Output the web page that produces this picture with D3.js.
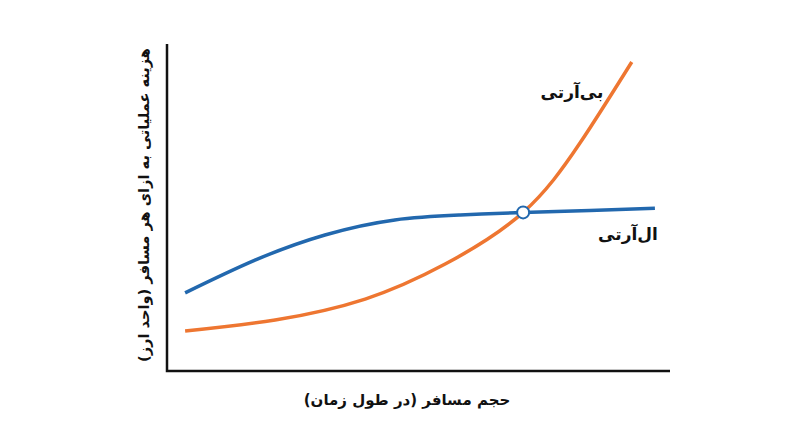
<!DOCTYPE html>
<html lang="fa">
<head>
<meta charset="utf-8">
<script src="https://cdn.jsdelivr.net/npm/d3@7"></script>
<style>
  html, body { margin: 0; padding: 0; background: #fff; }
  svg text { font-family: "DejaVu Sans", sans-serif; font-weight: bold; fill: #111; }
</style>
</head>
<body>
<svg id="chart" width="800" height="447"></svg>
<script>
// passenger volume (x) and cost per passenger (y), both in arbitrary units 0..100
const lrtX = [3.6, 17.5, 31.4, 45.3, 58.3, 70.8, 84.1, 97.0];
const lrtY = [23.9, 33.9, 41.6, 46.2, 47.7, 48.5, 49.1, 49.8];
const brtX = [3.6, 21.5, 39.4, 55.3, 70.8, 82.1, 92.4];
const brtY = [12.2, 15.6, 22.0, 32.7, 48.5, 69.7, 94.5];
const crossPoint = [70.8, 48.5];
const seriesNames = ["ال‌آرتی", "بی‌آرتی"];
const xTitle = "حجم مسافر (در طول زمان)";
const yTitle = "هزینه عملیاتی به ازای هر مسافر (واحد ارز)";

const svg = d3.select("#chart");
const plotLeft = 167, plotRight = 670, plotTop = 44, plotBottom = 371;

const x = d3.scaleLinear().domain([0, 100]).range([plotLeft, plotRight]);
const y = d3.scaleLinear().domain([0, 100]).range([plotBottom, plotTop]);

const line = d3.line()
	.x(d => x(d[0]))
	.y(d => y(d[1]))
	.curve(d3.curveNatural);

// axes: plain lines, no ticks
svg.append("path")
	.attr("d", "M" + plotLeft + "," + plotTop + "V" + plotBottom + "H" + plotRight)
	.attr("fill", "none")
	.attr("stroke", "#111")
	.attr("stroke-width", 2.5);

const lrt = d3.zip(lrtX, lrtY);
const brt = d3.zip(brtX, brtY);

svg.append("path")
	.datum(lrt)
	.attr("d", line)
	.attr("fill", "none")
	.attr("stroke", "#2268ae")
	.attr("stroke-width", 3.5);

svg.append("path")
	.datum(brt)
	.attr("d", line)
	.attr("fill", "none")
	.attr("stroke", "#ee7631")
	.attr("stroke-width", 3.5);

svg.append("circle")
	.attr("cx", x(crossPoint[0]))
	.attr("cy", y(crossPoint[1]))
	.attr("r", 6)
	.attr("fill", "#fff")
	.attr("stroke", "#2268ae")
	.attr("stroke-width", 2);

// series labels
svg.append("text")
	.attr("x", 628).attr("y", 235)
	.attr("text-anchor", "middle")
	.attr("dominant-baseline", "middle")
	.style("font-size", "17px")
	.text(seriesNames[0]);

svg.append("text")
	.attr("x", 572).attr("y", 93)
	.attr("text-anchor", "middle")
	.attr("dominant-baseline", "middle")
	.style("font-size", "17px")
	.text(seriesNames[1]);

// axis titles
svg.append("text")
	.attr("x", 407).attr("y", 400)
	.attr("text-anchor", "middle")
	.attr("dominant-baseline", "middle")
	.style("font-size", "15px")
	.text(xTitle);

svg.append("text")
	.attr("transform", "translate(145,205) rotate(-90)")
	.attr("text-anchor", "middle")
	.attr("dominant-baseline", "middle")
	.style("font-size", "14.6px")
	.text(yTitle);
</script>
</body>
</html>
